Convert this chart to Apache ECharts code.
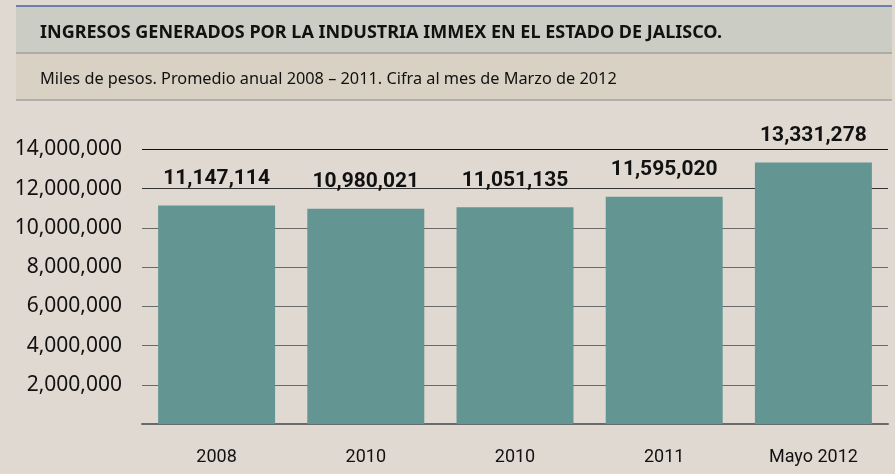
<!DOCTYPE html>
<html>
<head>
<meta charset="utf-8">
<script src="https://cdn.jsdelivr.net/npm/echarts@6/dist/echarts.min.js"></script>
<style>
html,body{margin:0;padding:0;background:#e0d9d1;}
#c{width:895px;height:474px;}
</style>
</head>
<body>
<div id="c"></div>
<script>
var categories = ['2008', '2010', '2010', '2011', 'Mayo 2012'];
var values = [11147114, 10980021, 11051135, 11595020, 13331278];
var yTicks = [0, 2000000, 4000000, 6000000, 8000000, 10000000, 12000000, 14000000];
var titleText = 'INGRESOS GENERADOS POR LA INDUSTRIA IMMEX EN EL ESTADO DE JALISCO.';
var subtitleText = 'Miles de pesos. Promedio anual 2008 \u2013 2011. Cifra al mes de Marzo de 2012';

var narrow = "'Roboto', 'Liberation Sans', sans-serif";
function fmt(v){ return v.toLocaleString('en-US'); }

var chart = echarts.init(document.getElementById('c'), null, {renderer:'canvas'});
chart.setOption({
  backgroundColor: '#e0d9d1',
  animation: false,
  graphic: [
    {type:'rect', shape:{x:16,y:6,width:876,height:47}, style:{fill:'#cbcdc5'}, z:-10},
    {type:'rect', shape:{x:16,y:53,width:876,height:47}, style:{fill:'#d8d1c4'}, z:-10},
    {type:'line', shape:{x1:16,y1:6,x2:892,y2:6}, style:{stroke:'#4b63a6', lineWidth:1.5}, z:-5},
    {type:'line', shape:{x1:16,y1:53,x2:892,y2:53}, style:{stroke:'#8a8a88', lineWidth:1}, z:-5},
    {type:'line', shape:{x1:16,y1:100,x2:892,y2:100}, style:{stroke:'#8a8a88', lineWidth:1}, z:-5}
  ],
  title: [
    {text: titleText, left: 35, top: 19,
     textStyle:{fontFamily:"'Noto Sans', sans-serif", fontWeight:'bold', fontSize:18, color:'#111'}},
    {text: subtitleText, left: 35, top: 66,
     textStyle:{fontFamily:"'Noto Sans', sans-serif", fontWeight:'normal', fontSize:16.3, color:'#111'}}
  ],
  grid: {left:142, right:7, top:149.5, bottom:50, containLabel:false},
  xAxis: {
    type:'category', data: categories,
    axisLine:{show:true, lineStyle:{color:'#6a6a6a', width:2}},
    axisTick:{show:false},
    axisLabel:{margin:24, fontFamily:narrow, fontSize:18, color:'#111'}
  },
  yAxis: {
    type:'value', min:0, max:14000000, interval:2000000,
    axisLine:{show:false}, axisTick:{show:false},
    splitLine:{show:true, lineStyle:{color:['#6a6a6a','#6a6a6a','#6a6a6a','#6a6a6a','#6a6a6a','#6a6a6a','#333','#111'], width:1}},
    axisLabel:{margin:20, fontFamily:"'Noto Sans', sans-serif", fontSize:21, color:'#111',
      formatter:function(v){ return v === 0 ? '' : fmt(v); }}
  },
  series: [{
    type:'bar', data: values, barCategoryGap:'21.6%',
    itemStyle:{color:'#639593'},
    label:{show:true, position:'top', distance:16, fontFamily:narrow, fontWeight:'bold', fontSize:21, color:'#111',
      formatter:function(p){ return fmt(p.value); }}
  }]
});
</script>
</body>
</html>
